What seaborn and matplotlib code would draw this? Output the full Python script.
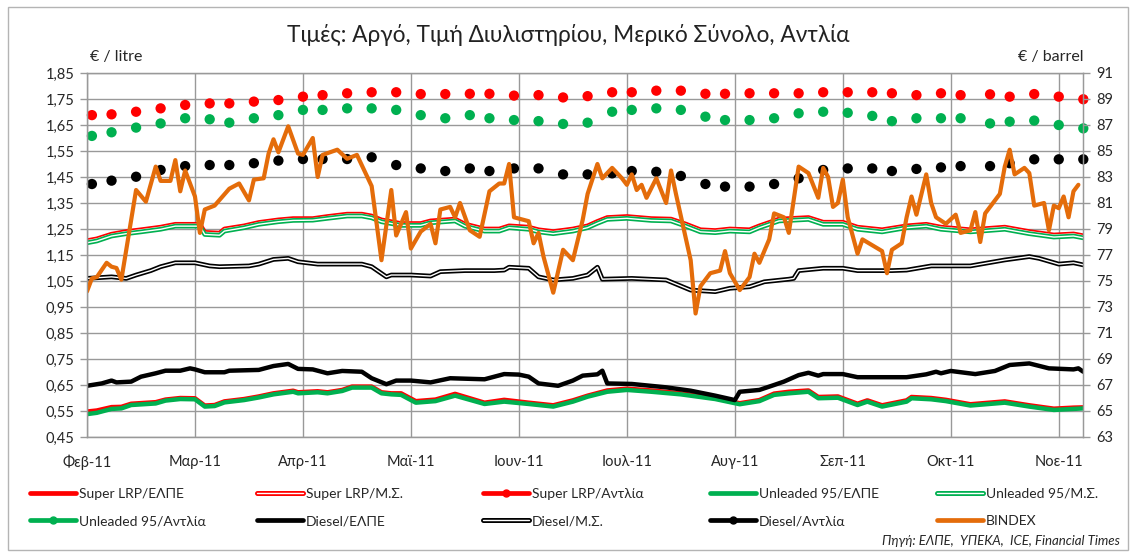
import numpy as np
import pandas as pd
import matplotlib
matplotlib.use('Agg')
import matplotlib.pyplot as plt
import matplotlib.patheffects as pe
from matplotlib.lines import Line2D
from matplotlib.patches import Rectangle
import seaborn as sns

sns.set_style('white')
plt.rcParams['font.family'] = ['Lato', 'DejaVu Sans']

# x values are positions on the trading-day category axis (0 = 1 Feb 2011)
month_labels = ['Φεβ-11', 'Μαρ-11', 'Απρ-11', 'Μαϊ-11', 'Ιουν-11',
                'Ιουλ-11', 'Αυγ-11', 'Σεπ-11', 'Οκτ-11', 'Νοε-11']

# weekly pump prices (Αντλία)
pump_days = [1, 5, 10, 15, 20, 25, 29, 34, 39, 44, 48, 53, 58, 63, 68, 73, 78, 82, 87, 92, 97, 102,
             107, 111, 116, 121, 126, 130, 135, 140, 145, 150, 155, 160, 164, 169, 174, 178, 184,
             188, 193, 198, 203]
super_pump = [1.688, 1.691, 1.701, 1.714, 1.727, 1.733, 1.733, 1.740, 1.746, 1.759, 1.765, 1.772,
              1.776, 1.776, 1.769, 1.769, 1.770, 1.770, 1.763, 1.765, 1.756, 1.761, 1.776, 1.776,
              1.782, 1.782, 1.770, 1.770, 1.772, 1.772, 1.772, 1.776, 1.776, 1.776, 1.772, 1.765,
              1.772, 1.765, 1.768, 1.759, 1.769, 1.759, 1.749]
unl_pump = [1.608, 1.622, 1.640, 1.656, 1.676, 1.672, 1.659, 1.676, 1.688, 1.708, 1.708, 1.714,
            1.714, 1.708, 1.688, 1.676, 1.688, 1.676, 1.669, 1.665, 1.654, 1.659, 1.701, 1.708,
            1.714, 1.708, 1.682, 1.669, 1.669, 1.676, 1.695, 1.701, 1.697, 1.685, 1.665, 1.676,
            1.676, 1.676, 1.656, 1.663, 1.667, 1.650, 1.637]
diesel_pump = [1.423, 1.436, 1.451, 1.477, 1.492, 1.496, 1.496, 1.503, 1.513, 1.519, 1.519, 1.519,
               1.526, 1.496, 1.483, 1.473, 1.483, 1.473, 1.483, 1.483, 1.460, 1.460, 1.464, 1.473,
               1.470, 1.454, 1.423, 1.413, 1.413, 1.423, 1.445, 1.477, 1.483, 1.483, 1.473, 1.481,
               1.487, 1.492, 1.492, 1.503, 1.518, 1.518, 1.518]

# partial total (Μ.Σ.), gasoline
gas_ms_days = [0, 2, 5, 8, 11, 15, 18, 22, 23, 24, 27, 28, 32, 35, 39, 42, 46, 49, 53, 56, 58, 60,
               64, 68, 70, 75, 77, 81, 84, 86, 90, 92, 95, 99, 102, 104, 106, 110, 115, 119, 122,
               125, 128, 131, 135, 137, 141, 147, 150, 154, 157, 162, 167, 171, 174, 180, 187,
               192, 197, 201, 203]
super_ms = [1.205, 1.212, 1.230, 1.240, 1.247, 1.257, 1.268, 1.268, 1.268, 1.237, 1.234, 1.250,
            1.262, 1.275, 1.285, 1.290, 1.290, 1.298, 1.307, 1.307, 1.300, 1.285, 1.271, 1.271,
            1.281, 1.288, 1.269, 1.250, 1.250, 1.262, 1.257, 1.247, 1.240, 1.250, 1.262, 1.279,
            1.294, 1.298, 1.290, 1.288, 1.269, 1.247, 1.244, 1.250, 1.247, 1.262, 1.288, 1.294,
            1.276, 1.276, 1.257, 1.247, 1.262, 1.268, 1.257, 1.247, 1.257, 1.240, 1.227, 1.231,
            1.224]
unl_ms = [1.197, 1.204, 1.223, 1.232, 1.239, 1.249, 1.261, 1.261, 1.261, 1.229, 1.226, 1.242,
          1.255, 1.268, 1.278, 1.283, 1.284, 1.291, 1.300, 1.300, 1.293, 1.278, 1.264, 1.264,
          1.274, 1.281, 1.261, 1.242, 1.242, 1.255, 1.249, 1.239, 1.232, 1.242, 1.255, 1.272,
          1.287, 1.291, 1.283, 1.281, 1.261, 1.239, 1.236, 1.242, 1.239, 1.255, 1.281, 1.287,
          1.268, 1.268, 1.249, 1.239, 1.255, 1.261, 1.249, 1.239, 1.249, 1.232, 1.219, 1.223,
          1.216]

diesel_ms_days = [0, 5, 8, 10, 13, 15, 18, 22, 25, 27, 33, 35, 38, 41, 43, 47, 52, 56, 58, 61, 62,
                  66, 70, 72, 77, 83, 85, 86, 90, 92, 95, 99, 102, 104, 105, 111, 118, 123, 128,
                  131, 135, 138, 143, 144, 145, 150, 154, 157, 164, 167, 172, 180, 187, 192, 194,
                  198, 201, 203]
diesel_ms = [1.060, 1.066, 1.060, 1.073, 1.090, 1.105, 1.120, 1.120, 1.108, 1.105, 1.108, 1.115,
             1.133, 1.137, 1.124, 1.115, 1.115, 1.115, 1.105, 1.066, 1.073, 1.073, 1.069, 1.086,
             1.090, 1.090, 1.092, 1.103, 1.099, 1.066, 1.054, 1.060, 1.073, 1.103, 1.057, 1.060,
             1.054, 1.015, 1.009, 1.022, 1.028, 1.047, 1.057, 1.060, 1.090, 1.099, 1.099, 1.090,
             1.090, 1.092, 1.108, 1.108, 1.131, 1.144, 1.137, 1.115, 1.120, 1.112]

# refinery prices (ΕΛΠΕ)
gas_elpe_days = [0, 2, 5, 7, 9, 14, 16, 19, 22, 24, 26, 28, 32, 35, 38, 42, 43, 47, 49, 52, 54,
                 58, 60, 62, 64, 67, 71, 75, 81, 85, 90, 95, 99, 102, 106, 110, 115, 121, 128,
                 133, 137, 140, 143, 147, 149, 153, 157, 159, 162, 167, 168, 172, 175, 180, 187,
                 192, 197, 201, 203]
super_elpe = [0.548, 0.552, 0.565, 0.566, 0.578, 0.584, 0.594, 0.600, 0.599, 0.571, 0.573, 0.587,
              0.596, 0.606, 0.618, 0.628, 0.622, 0.626, 0.622, 0.631, 0.644, 0.644, 0.622, 0.618,
              0.618, 0.588, 0.594, 0.616, 0.582, 0.593, 0.582, 0.572, 0.591, 0.609, 0.629, 0.636,
              0.629, 0.618, 0.600, 0.580, 0.592, 0.617, 0.624, 0.629, 0.604, 0.606, 0.578, 0.591,
              0.572, 0.591, 0.604, 0.600, 0.593, 0.576, 0.587, 0.572, 0.559, 0.563, 0.564]
unl_elpe = [0.538, 0.543, 0.558, 0.560, 0.573, 0.579, 0.590, 0.596, 0.595, 0.567, 0.569, 0.583,
            0.592, 0.602, 0.614, 0.624, 0.618, 0.622, 0.618, 0.627, 0.640, 0.640, 0.618, 0.614,
            0.612, 0.582, 0.588, 0.609, 0.577, 0.586, 0.577, 0.567, 0.586, 0.605, 0.624, 0.631,
            0.624, 0.614, 0.596, 0.576, 0.588, 0.612, 0.618, 0.624, 0.599, 0.601, 0.573, 0.586,
            0.567, 0.586, 0.599, 0.595, 0.588, 0.571, 0.582, 0.567, 0.554, 0.558, 0.560]

diesel_elpe_days = [0, 3, 5, 6, 9, 11, 14, 16, 19, 21, 22, 24, 28, 29, 35, 38, 41, 43, 46, 49, 52,
                    56, 58, 61, 63, 66, 70, 74, 81, 85, 88, 90, 92, 96, 99, 101, 104, 105, 106,
                    111, 118, 123, 128, 132, 133, 137, 140, 142, 145, 147, 149, 150, 154, 157,
                    167, 171, 173, 174, 176, 181, 185, 188, 192, 196, 201, 202, 203]
diesel_elpe = [0.647, 0.656, 0.667, 0.660, 0.663, 0.682, 0.695, 0.705, 0.705, 0.714, 0.710, 0.699,
               0.699, 0.705, 0.708, 0.723, 0.731, 0.712, 0.710, 0.695, 0.704, 0.701, 0.676, 0.653,
               0.667, 0.667, 0.660, 0.676, 0.672, 0.692, 0.690, 0.682, 0.656, 0.647, 0.667, 0.686,
               0.691, 0.705, 0.656, 0.654, 0.641, 0.628, 0.609, 0.592, 0.624, 0.631, 0.650, 0.663,
               0.688, 0.697, 0.686, 0.692, 0.692, 0.680, 0.680, 0.691, 0.701, 0.695, 0.704, 0.692,
               0.704, 0.727, 0.733, 0.714, 0.710, 0.714, 0.701]

# crude oil, €/barrel (right axis)
bindex_days = [0, 1, 2, 4, 5, 6, 7, 10, 12, 14, 15, 17, 18, 19, 20, 22, 23, 24, 26, 29, 31, 33, 34,
               36, 37, 38, 39, 41, 43, 44, 46, 47, 48, 51, 53, 55, 58, 60, 62, 63, 65, 66, 68, 70,
               71, 72, 74, 75, 76, 78, 80, 82, 84, 85, 86, 87, 90, 91, 92, 93, 95, 97, 99, 101,
               102, 104, 105, 107, 109, 110, 111, 112, 113, 114, 116, 118, 119, 120, 123, 124,
               125, 127, 129, 130, 131, 133, 135, 136, 137, 139, 140, 142, 143, 145, 147, 149,
               150, 151, 152, 153, 154, 155, 157, 158, 162, 163, 164, 166, 167, 168, 169, 171,
               172, 173, 175, 177, 178, 180, 181, 182, 183, 184, 186, 187, 188, 189, 191, 192,
               193, 195, 196, 197, 198, 199, 200, 201, 202]
bindex = [74.2, 75.2, 75.3, 76.4, 76.1, 76.0, 75.1, 82.0, 81.1, 83.8, 82.7, 82.7, 84.3, 81.9, 83.5,
          81.5, 78.7, 80.5, 80.8, 82.1, 82.5, 81.2, 82.8, 82.9, 84.8, 85.9, 84.9, 86.9, 84.8, 84.7,
          86.0, 83.0, 84.7, 85.1, 84.4, 84.7, 82.3, 76.6, 82.0, 78.5, 80.3, 77.5, 78.8, 79.4, 77.9,
          80.5, 80.7, 79.9, 81.0, 78.9, 78.4, 81.9, 82.5, 82.5, 84.0, 79.9, 79.6, 77.9, 78.7, 76.9,
          74.1, 77.4, 76.6, 79.7, 81.7, 84.0, 82.9, 83.7, 82.9, 82.4, 83.2, 82.0, 82.4, 81.4, 82.9,
          81.0, 83.5, 81.7, 76.6, 72.5, 74.6, 75.6, 75.8, 77.3, 75.6, 74.3, 75.3, 77.1, 76.4, 78.2,
          80.2, 79.9, 78.7, 83.8, 83.3, 81.4, 83.7, 83.0, 80.7, 81.0, 82.8, 79.9, 77.1, 78.2, 77.3,
          75.6, 77.4, 77.9, 79.9, 81.5, 80.1, 83.2, 81.0, 79.9, 79.4, 80.1, 78.7, 78.9, 80.3, 78.0,
          80.2, 80.7, 81.7, 83.8, 85.1, 83.2, 83.7, 83.3, 80.8, 81.0, 78.9, 80.8, 80.6, 81.5, 79.9,
          81.9, 82.4]

RED = '#ff0000'
GREEN = '#00b050'
BLACK = '#000000'
ORANGE = '#e46c0a'
GRID = '#999999'

fig = plt.figure(figsize=(11.37, 5.57), dpi=100)
fig.patches.append(Rectangle((8 / 1137, 7 / 557), 1120 / 1137, 543 / 557, transform=fig.transFigure,
                             fill=False, edgecolor='#b4b4b4', linewidth=1))
ax = fig.add_axes([87 / 1137, 1 - 437 / 557, 996.3 / 1137, 364 / 557])


def double_line(days, vals, color):
    sns.lineplot(x=days, y=vals, ax=ax, color='white', linewidth=1.0,
                 path_effects=[pe.Stroke(linewidth=3.4, foreground=color), pe.Normal()])


# series in workbook order
sns.lineplot(x=gas_elpe_days, y=super_elpe, ax=ax, color=RED, linewidth=3.2)
double_line(gas_ms_days, super_ms, RED)
sns.scatterplot(x=pump_days, y=super_pump, ax=ax, color=RED, s=55, edgecolor='none', clip_on=False)
sns.lineplot(x=gas_elpe_days, y=unl_elpe, ax=ax, color=GREEN, linewidth=3.2)
double_line(gas_ms_days, unl_ms, GREEN)
sns.scatterplot(x=pump_days, y=unl_pump, ax=ax, color=GREEN, s=55, edgecolor='none', clip_on=False)
sns.lineplot(x=diesel_elpe_days, y=diesel_elpe, ax=ax, color=BLACK, linewidth=3.2)
double_line(diesel_ms_days, diesel_ms, BLACK)
sns.scatterplot(x=pump_days, y=diesel_pump, ax=ax, color=BLACK, s=55, edgecolor='none', clip_on=False)

ax.set_xlim(0, 203)
ax.set_ylim(0.45, 1.85)
yt = np.arange(0.45, 1.851, 0.1)
ax.set_yticks(yt)
ax.set_yticklabels([f'{v:.2f}'.replace('.', ',') for v in yt], fontsize=10.5)
ax.set_xticks(np.arange(0, 22 * len(month_labels), 22))
ax.set_xticklabels(month_labels, fontsize=10.5)
ax.set_xticks(np.arange(0, 204, 2), minor=True)
ax.grid(True, which='major', color=GRID, linewidth=1)
ax.tick_params(axis='both', which='major', direction='out', length=5, color=GRID, width=1, pad=4)
ax.tick_params(axis='x', which='minor', direction='out', length=3, color=GRID, width=1)
ax.tick_params(axis='x', which='major', pad=8)
for sp in ax.spines.values():
    sp.set_color(GRID)
    sp.set_linewidth(1)
ax.set_xlabel('')
ax.set_ylabel('')

ax2 = ax.twinx()
sns.lineplot(x=bindex_days, y=bindex, ax=ax2, color=ORANGE, linewidth=3.0)
ax2.set_ylim(63, 91)
ax2.set_yticks(np.arange(63, 92, 2))
ax2.tick_params(axis='y', direction='out', length=5, color=GRID, width=1, labelsize=10.5, pad=4)
for sp in ax2.spines.values():
    sp.set_color(GRID)
ax2.set_ylabel('')
ax2.grid(False)

fig.text(0.500, 1 - 35 / 557, 'Τιμές: Αργό, Τιμή Διυλιστηρίου, Μερικό Σύνολο, Αντλία',
         ha='center', va='center', fontsize=16.3, color='#222222')
fig.text(90 / 1137, 1 - 57 / 557, '€ / litre', ha='left', va='center', fontsize=11.5)
fig.text(1083 / 1137, 1 - 57 / 557, '€ / barrel', ha='right', va='center', fontsize=11.5)
fig.text(1120 / 1137, 1 - 541 / 557, 'Πηγή: ΕΛΠΕ,  ΥΠΕΚΑ,  ICE, Financial Times',
         ha='right', va='center', fontsize=9.5, style='italic')


def leg_line(color, kind):
    if kind == 'solid':
        return Line2D([], [], color=color, linewidth=3.4)
    if kind == 'double':
        return Line2D([], [], color='white', linewidth=1.0,
                      path_effects=[pe.Stroke(linewidth=3.6, foreground=color), pe.Normal()])
    return Line2D([], [], color=color, linewidth=3.4, marker='o', markersize=5)


legend_rows = [
    [('Super LRP/ΕΛΠΕ', RED, 'solid'), ('Super LRP/Μ.Σ.', RED, 'double'),
     ('Super LRP/Αντλία', RED, 'dot'), ('Unleaded 95/ΕΛΠΕ', GREEN, 'solid'),
     ('Unleaded 95/Μ.Σ.', GREEN, 'double')],
    [('Unleaded 95/Αντλία', GREEN, 'dot'), ('Diesel/ΕΛΠΕ', BLACK, 'solid'),
     ('Diesel/Μ.Σ.', BLACK, 'double'), ('Diesel/Αντλία', BLACK, 'dot'),
     ('BINDEX', ORANGE, 'solid')],
]
col_x = [30, 257, 483, 710, 937]
for c, x0 in enumerate(col_x):
    items = [legend_rows[0][c], legend_rows[1][c]]
    fig.legend(handles=[leg_line(col, k) for _, col, k in items],
               labels=[lab for lab, _, _ in items],
               loc='upper left', bbox_to_anchor=(x0 / 1137, 1 - 488 / 557),
               frameon=False, fontsize=10, handlelength=3.3, handletextpad=0.2,
               labelspacing=1.1, borderpad=0, borderaxespad=0)

fig.savefig('out.png', dpi=100)
